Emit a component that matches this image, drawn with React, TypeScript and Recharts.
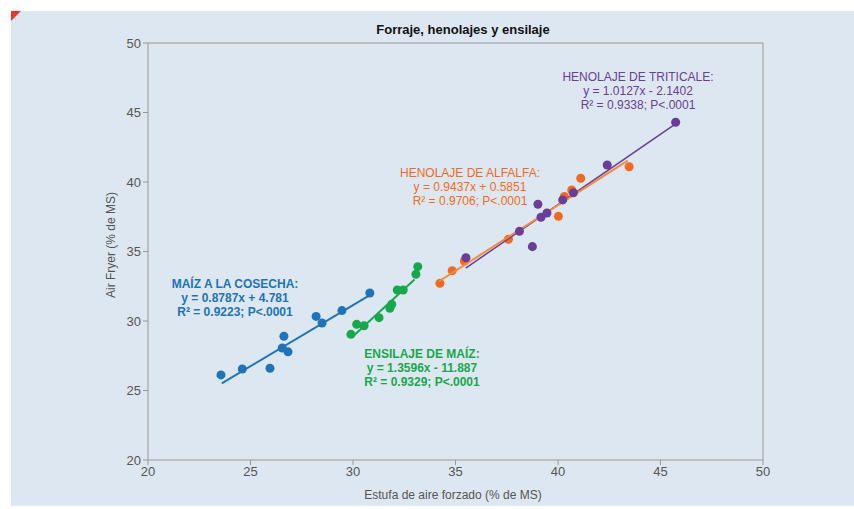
import React from "react";
import { ScatterChart, Scatter, XAxis, YAxis, ZAxis, ReferenceLine } from "recharts";

// puntos
const maizCosecha = [
  { x: 23.56, y: 26.12 },
  { x: 24.6, y: 26.55 },
  { x: 25.95, y: 26.6 },
  { x: 26.63, y: 28.9 },
  { x: 26.55, y: 28.06 },
  { x: 26.83, y: 27.78 },
  { x: 28.2, y: 30.33 },
  { x: 28.49, y: 29.86 },
  { x: 29.46, y: 30.75 },
  { x: 30.82, y: 32.01 },
];

const ensilajeMaiz = [
  { x: 29.9, y: 29.04 },
  { x: 30.18, y: 29.76 },
  { x: 30.54, y: 29.66 },
  { x: 31.27, y: 30.24 },
  { x: 31.8, y: 30.91 },
  { x: 31.89, y: 31.2 },
  { x: 32.16, y: 32.23 },
  { x: 32.45, y: 32.23 },
  { x: 33.07, y: 33.36 },
  { x: 33.16, y: 33.91 },
];

const henolajeAlfalfa = [
  { x: 34.24, y: 32.71 },
  { x: 34.84, y: 33.62 },
  { x: 35.43, y: 34.32 },
  { x: 37.58, y: 35.88 },
  { x: 40.02, y: 37.53 },
  { x: 40.31, y: 38.96 },
  { x: 40.67, y: 39.42 },
  { x: 41.11, y: 40.27 },
  { x: 43.47, y: 41.1 },
];

const henolajeTriticale = [
  { x: 35.51, y: 34.55 },
  { x: 38.12, y: 36.45 },
  { x: 38.75, y: 35.35 },
  { x: 39.02, y: 38.4 },
  { x: 39.17, y: 37.46 },
  { x: 39.46, y: 37.77 },
  { x: 40.23, y: 38.71 },
  { x: 40.75, y: 39.23 },
  { x: 42.4, y: 41.22 },
  { x: 45.74, y: 44.3 },
];

// extremos de las rectas de regresion
const lineaMaiz = [
  { x: 23.6, y: 25.52 },
  { x: 30.8, y: 31.84 },
];
const lineaEnsilaje = [
  { x: 29.95, y: 28.83 },
  { x: 33.0, y: 32.98 },
];
const lineaAlfalfa = [
  { x: 34.2, y: 32.86 },
  { x: 43.4, y: 41.54 },
];
const lineaTriticale = [
  { x: 35.5, y: 33.81 },
  { x: 45.7, y: 44.14 },
];

const ticks = [20, 25, 30, 35, 40, 45, 50];

const etiquetas = [
  { lines: ["MAÍZ A LA COSECHA:", "y = 0.8787x + 4.781", "R² = 0.9223; P<.0001"], color: "#2173b9", x: 235, y: 284, bold: true },
  { lines: ["ENSILAJE DE MAÍZ:", "y = 1.3596x - 11.887", "R² = 0.9329; P<.0001"], color: "#18a84c", x: 422, y: 354, bold: true },
  { lines: ["HENOLAJE DE ALFALFA:", "y = 0.9437x + 0.5851", "R² = 0.9706; P<.0001"], color: "#f26a22", x: 470, y: 173, bold: false },
  { lines: ["HENOLAJE DE TRITICALE:", "y = 1.0127x - 2.1402", "R² = 0.9338; P<.0001"], color: "#6a3d98", x: 638, y: 77, bold: false },
];

const noShape = () => <g />;

const tickStyle = { fontSize: 13, fill: "#555", fontFamily: "Liberation Sans Narrow, Liberation Sans, Arial" };

export default function App() {
  return (
    <div style={{ position: "absolute", left: 0, top: 0, width: 854, height: 509, background: "#fff", fontFamily: "Liberation Sans, Arial, sans-serif" }}>
      <div style={{ position: "absolute", left: 11, top: 11, width: 843, height: 495, background: "#dde7f1" }} />
      <div style={{ position: "absolute", left: 11, top: 11, width: 0, height: 0, borderTop: "10px solid #ee3528", borderRight: "10px solid transparent" }} />
      <div style={{ position: "absolute", left: 0, width: 926, top: 22, textAlign: "center", fontSize: 13, fontWeight: "bold", color: "#111" }}>
        Forraje, henolajes y ensilaje
      </div>
      <div style={{ position: "absolute", left: 0, top: 0 }}>
        <ScatterChart width={854} height={509} margin={{ top: 43, right: 91, left: 88, bottom: 19 }}>
          <XAxis
            type="number"
            dataKey="x"
            domain={[20, 50]}
            ticks={ticks}
            stroke="#999"
            tick={tickStyle}
            tickSize={5}
            allowDataOverflow
          />
          <YAxis
            type="number"
            dataKey="y"
            domain={[20, 50]}
            ticks={ticks}
            stroke="#999"
            tick={tickStyle}
            tickSize={5}
            width={60}
            allowDataOverflow
          />
          <ZAxis range={[80, 80]} />
          <ReferenceLine y={50} stroke="#999" />
          <ReferenceLine x={50} stroke="#999" />
          <Scatter data={maizCosecha} fill="#2173b9" isAnimationActive={false} />
          <Scatter data={lineaMaiz} line={{ stroke: "#2173b9", strokeWidth: 2 }} shape={noShape} isAnimationActive={false} />
          <Scatter data={ensilajeMaiz} fill="#18a84c" isAnimationActive={false} />
          <Scatter data={lineaEnsilaje} line={{ stroke: "#18a84c", strokeWidth: 2 }} shape={noShape} isAnimationActive={false} />
          <Scatter data={henolajeAlfalfa} fill="#f26a22" isAnimationActive={false} />
          <Scatter data={lineaTriticale} line={{ stroke: "#6a3d98", strokeWidth: 1.5 }} shape={noShape} isAnimationActive={false} />
          <Scatter data={lineaAlfalfa} line={{ stroke: "#f58a3c", strokeWidth: 2 }} shape={noShape} isAnimationActive={false} />
          <Scatter data={henolajeTriticale} fill="#6a3d98" isAnimationActive={false} />
        </ScatterChart>
      </div>
      <div
        style={{
          position: "absolute",
          left: 111,
          top: 245,
          transform: "translate(-50%, -50%) rotate(-90deg)",
          fontSize: 12,
          color: "#555",
          whiteSpace: "nowrap",
        }}
      >
        Air Fryer (% de MS)
      </div>
      <div style={{ position: "absolute", left: 0, width: 906, top: 488, textAlign: "center", fontSize: 12, color: "#555" }}>
        Estufa de aire forzado (% de MS)
      </div>
      {etiquetas.map((e, i) => (
        <div
          key={i}
          style={{
            position: "absolute",
            left: e.x,
            top: e.y - 7,
            transform: "translateX(-50%)",
            textAlign: "center",
            whiteSpace: "nowrap",
            fontSize: 12,
            lineHeight: "14px",
            color: e.color,
            fontWeight: e.bold ? "bold" : "normal",
          }}
        >
          {e.lines.map((l, j) => (
            <div key={j}>{l}</div>
          ))}
        </div>
      ))}
    </div>
  );
}
